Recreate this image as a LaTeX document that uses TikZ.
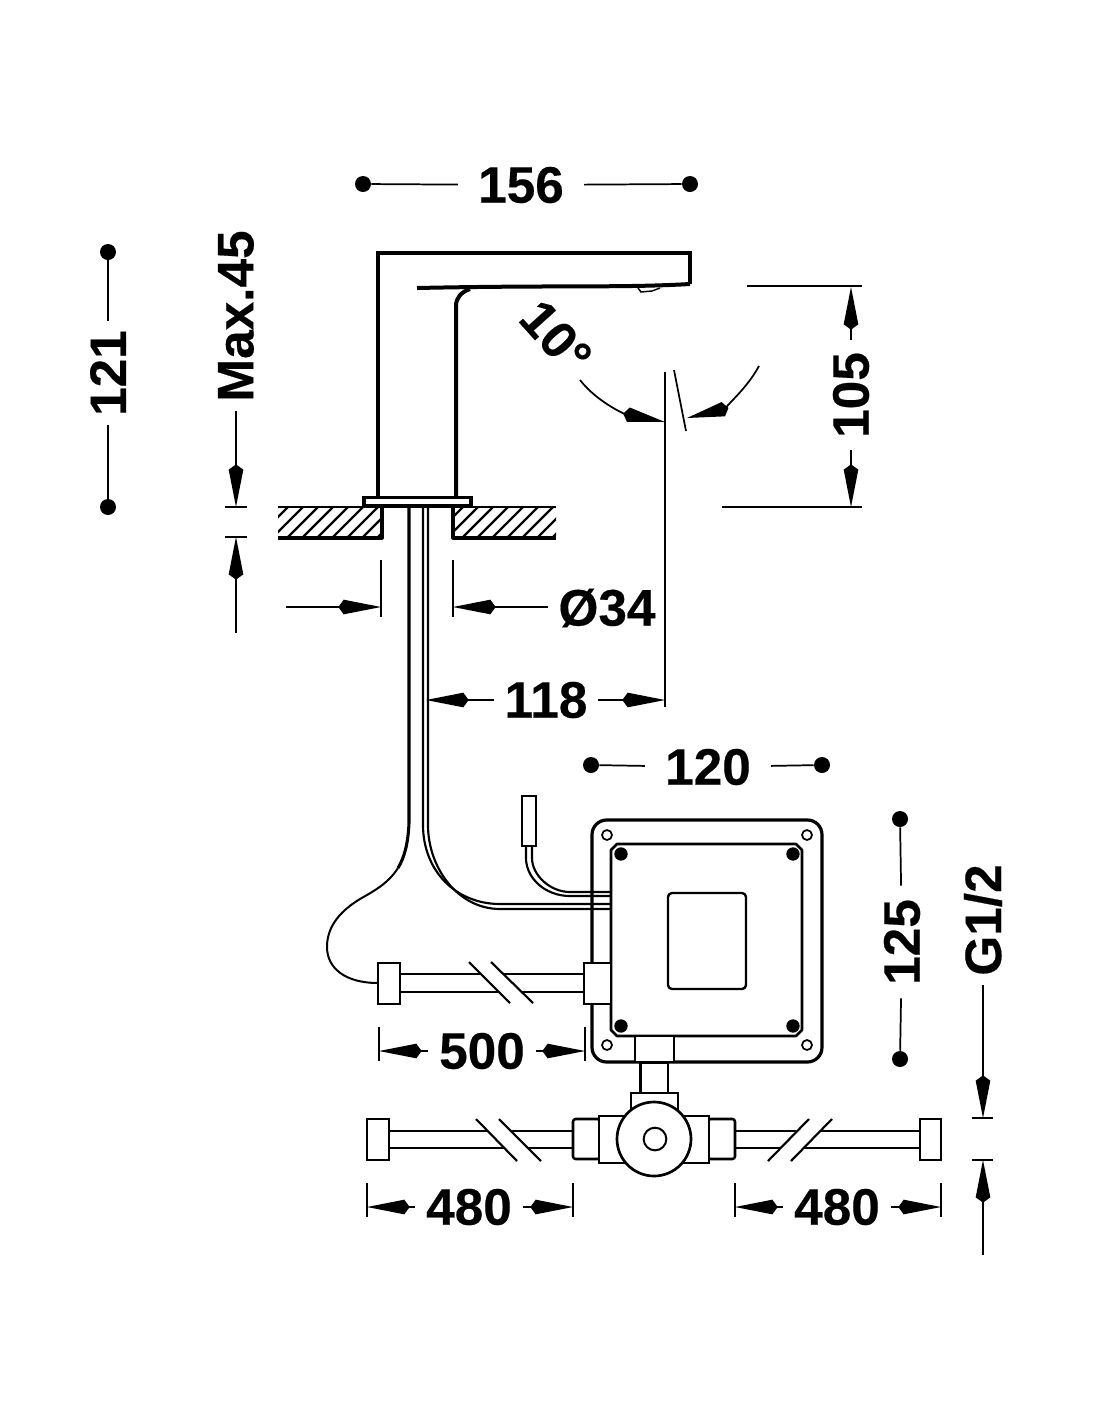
\documentclass[tikz,border=0pt]{standalone}
\usepackage{fontspec}
\setmainfont[BoldFeatures={FakeBold=0.35}]{Liberation Sans}
\usetikzlibrary{arrows.meta}
\tikzset{
  px/.style={x=0.75pt,y=-0.75pt},
  heavy/.style={line width=3.0pt,line join=miter},
  body/.style={line width=2.3pt,line join=round},
  mid/.style={line width=1.6pt,line join=round},
  thin/.style={line width=1.1pt},
  dimtip/.tip={Kite[length=32pt,width=11pt,inset=4pt]},
  dimtext/.style={font=\bfseries\fontsize{38.5}{40}\selectfont,inner sep=8pt},
  dimline/.style={line width=1.3pt},
  dimarrow/.style={line width=1.3pt,-dimtip},
  enddot/.style={circle,fill=black,inner sep=0pt,minimum size=12pt},
  screw/.style={circle,fill=black,inner sep=0pt,minimum size=10pt},
  hole/.style={circle,draw=black,fill=white,line width=1.3pt,inner sep=0pt,minimum size=7.5pt},
  part/.style={draw=black,fill=white,line width=1.7pt},
}
\begin{document}
\begin{tikzpicture}[px]
\useasboundingbox (0,0) rectangle (1100,1422);
% ---- hatched counter top
\begin{scope}
  \clip (278,507) rectangle (382,538);
  \foreach \x in {240,255,...,400}{\draw[line width=1.7pt] (\x,540) -- (\x+35,505);}
\end{scope}
\begin{scope}
  \clip (453,507) rectangle (556,538);
  \foreach \x in {415,430,...,570}{\draw[line width=1.7pt] (\x,540) -- (\x+35,505);}
\end{scope}
\draw[mid] (278,507) -- (382,507);
\draw[mid] (453,507) -- (556,507);
\draw[body] (278,538) -- (382,538) -- (382,507);
\draw[body] (556,538) -- (453,538) -- (453,507);
% ---- tap body
\draw[heavy] (378,497) -- (378,253) -- (690,253) -- (690,284);
\draw[heavy] (690,284) .. controls (620,288) and (560,285) .. (417,288);
\draw[heavy] (456,497) -- (456,306) .. controls (456,298) and (461,292) .. (470,289);
\draw[thin] (638,288) -- (641,292) -- (652,291) -- (660,288);
\draw[part,line width=2.3pt] (364,497.5) rectangle (471,506);
% ---- supply lines below the deck
\draw[body] (409,507) -- (409,823) .. controls (408,845) and (404,858) .. (398,868);
\draw[line width=1.5pt] (398,868)
  .. controls (388,884) and (372,892) .. (360,899)
  .. controls (342,910) and (327,925) .. (327,947)
  .. controls (327,968) and (345,983) .. (378,983);
\draw[mid] (423,507) -- (423,825) .. controls (423,870) and (455,904) .. (500,904) -- (611,904);
\draw[mid] (428,507) -- (428,825) .. controls (428,868) and (458,909) .. (500,909) -- (611,909);
% ---- sensor
\draw[mid] (526,846) -- (526,858) .. controls (526,878) and (545,896) .. (570,896) -- (611,896);
\draw[mid] (532,846) -- (532,858) .. controls (532,875) and (550,892) .. (570,892) -- (611,892);
\node[part,minimum width=10.5pt,minimum height=37.5pt,inner sep=0pt] (sensor) at (529,821) {};
% ---- control box
\draw[heavy,line width=2.4pt,rounded corners=11pt] (592,820) rectangle (822,1062);
\draw[mid,line width=2pt] (611,844) ++(6,0) -- (796,844) -- (802,850) -- (802,1030) -- (796,1036) -- (617,1036) -- (611,1030) -- (611,850) -- cycle;
\draw[mid,rounded corners=3pt,line width=1.8pt] (668,893) rectangle (746,989);
\foreach \n/\x/\y in {sa/621/854,sb/793/854,sc/621/1026,sd/793/1026}{\node[screw] (\n) at (\x,\y) {};}
\foreach \n/\x/\y in {ha/607/835,hb/807/835,hc/607/1045,hd/807/1045}{\node[hole] (\n) at (\x,\y) {};}
\draw[part,line width=2pt] (584,963) rectangle (611,1004);
\draw[part,line width=2pt] (635,1036) rectangle (674,1062);
% ---- solenoid cable with break
\draw[mid] (400,974) -- (584,974);
\draw[mid] (400,992) -- (584,992);
\fill[white] (478,972) -- (500,972) -- (524,994) -- (502,994) -- cycle;
\draw[mid] (469,962) -- (510,1003);
\draw[mid] (491,962) -- (533,1003);
\draw[part,line width=2pt] (378,963) rectangle (400,1004);
% ---- valve
\draw[part,line width=2pt] (640.5,1063) rectangle (668,1095);
\draw[part,line width=1.8pt] (631,1093) rectangle (678,1112);
% hoses
\draw[mid] (389,1131) -- (573,1131);
\draw[mid] (389,1148) -- (573,1148);
\draw[mid] (735,1131) -- (920,1131);
\draw[mid] (735,1148) -- (920,1148);
\fill[white] (487,1129) -- (510,1129) -- (530,1150) -- (507,1150) -- cycle;
\fill[white] (798,1129) -- (821,1129) -- (801,1150) -- (778,1150) -- cycle;
\draw[mid] (476,1119) -- (517,1161);
\draw[mid] (499,1119) -- (541,1161);
\draw[mid] (809,1119) -- (768,1161);
\draw[mid] (832,1119) -- (791,1161);
\draw[part,line width=1.8pt] (367,1119) rectangle (389,1160);
\draw[part,line width=1.8pt] (920,1119) rectangle (941,1160);
\draw[part,line width=1.9pt,rounded corners=2pt] (573,1119) rectangle (600,1159);
\draw[part,line width=1.9pt,rounded corners=2pt] (708,1119) rectangle (735,1159);
\draw[part,line width=2pt] (599,1116) rectangle (709,1163);
\node[circle,draw=black,fill=white,line width=2pt,inner sep=0pt,minimum size=55.5pt] (valve) at (654,1139) {};
\node[circle,draw=black,fill=white,line width=1.5pt,inner sep=0pt,minimum size=17pt] (spindle) at (655,1139) {};
% ---- centre line and tilt line
\coordinate (cltop) at (665,372);
\coordinate (clbot) at (665,707);
\draw[dimline] (cltop) -- (clbot);
\coordinate (tilta) at (674,370);
\coordinate (tiltb) at (686,431);
\draw[dimline] (tilta) -- (tiltb);
\coordinate (arcla) at (580,380);
\coordinate (arclb) at (665,422);
\draw[line width=1.3pt,-{Kite[length=32pt,width=11pt,inset=4pt]}] (arcla) .. controls (597,402) and (625,414) .. (arclb);
\coordinate (arcra) at (759,366);
\coordinate (arcrb) at (687,418);
\draw[line width=1.3pt,-{Kite[length=32pt,width=11pt,inset=4pt]}] (arcra) .. controls (745,392) and (720,410) .. (arcrb);
\node[dimtext,rotate=-48,inner sep=0pt] (t10) at (556,337) {10°};
% ---- dimension 156
\node[dimtext,inner sep=15pt] (t156) at (521,185) {156};
\node[enddot] (d156a) at (363,184) {};
\node[enddot] (d156b) at (690,184) {};
\draw[dimline] (d156a) -- (t156);
\draw[dimline] (t156) -- (d156b);
% ---- dimension 121
\node[dimtext,rotate=90,inner sep=7pt] (t121) at (108,373) {121};
\node[enddot] (d121a) at (108,252) {};
\node[enddot] (d121b) at (108,507) {};
\draw[dimline] (d121a) -- (t121);
\draw[dimline] (t121) -- (d121b);
% ---- dimension Max.45
\node[dimtext,rotate=90,inner sep=7pt] (tmax) at (236,316) {Max.45};
\coordinate (maxa) at (236,507);
\coordinate (maxb) at (236,537);
\coordinate (maxc) at (236,633);
\draw[dimarrow] (tmax) -- (maxa);
\draw[dimarrow] (maxc) -- (maxb);
\coordinate (ex1a) at (225,507); \coordinate (ex1b) at (247,507);
\coordinate (ex2a) at (225,537); \coordinate (ex2b) at (247,537);
\draw[dimline] (ex1a) -- (ex1b);
\draw[dimline] (ex2a) -- (ex2b);
% ---- dimension 105
\node[dimtext,rotate=90,inner sep=9pt] (t105) at (851,395) {105};
\coordinate (a105) at (851,287);
\coordinate (b105) at (851,507);
\draw[dimarrow] (t105) -- (a105);
\draw[dimarrow] (t105) -- (b105);
\coordinate (e105a) at (747,286); \coordinate (e105b) at (862,286);
\coordinate (e105c) at (722,507); \coordinate (e105d) at (862,507);
\draw[dimline] (e105a) -- (e105b);
\draw[dimline] (e105c) -- (e105d);
% ---- dimension O34
\node[dimtext,inner sep=0pt] (t34) at (607,608) {Ø34};
\coordinate (o1) at (286,607); \coordinate (o2) at (381,607);
\coordinate (o3) at (548,607); \coordinate (o4) at (453,607);
\draw[dimarrow] (o1) -- (o2);
\draw[dimarrow] (o3) -- (o4);
\coordinate (x1a) at (381,560); \coordinate (x1b) at (381,617);
\coordinate (x2a) at (453,560); \coordinate (x2b) at (453,617);
\draw[dimline] (x1a) -- (x1b);
\draw[dimline] (x2a) -- (x2b);
% ---- dimension 118
\node[dimtext] (t118) at (546,700) {118};
\coordinate (a118) at (426,700);
\coordinate (b118) at (665,700);
\draw[dimarrow] (t118) -- (a118);
\draw[dimarrow] (t118) -- (b118);
% ---- dimension 120
\node[dimtext,inner sep=15pt] (t120) at (708,767) {120};
\node[enddot] (d120a) at (591,765) {};
\node[enddot] (d120b) at (822,765) {};
\draw[dimline] (d120a) -- (t120);
\draw[dimline] (t120) -- (d120b);
% ---- dimension 125
\node[dimtext,rotate=90,inner sep=10pt] (t125) at (902,942) {125};
\node[enddot] (d125a) at (900,819) {};
\node[enddot] (d125b) at (900,1059) {};
\draw[dimline] (d125a) -- (t125);
\draw[dimline] (t125) -- (d125b);
% ---- dimension G1/2
\node[dimtext,rotate=90,inner sep=7pt] (tg) at (983,920) {G1/2};
\coordinate (ga) at (983,1118);
\coordinate (gb) at (983,1160);
\coordinate (gc) at (983,1255);
\draw[dimarrow] (tg) -- (ga);
\draw[dimarrow] (gc) -- (gb);
\coordinate (gx1) at (972,1118); \coordinate (gx2) at (993,1118);
\coordinate (gx3) at (972,1160); \coordinate (gx4) at (993,1160);
\draw[dimline] (gx1) -- (gx2);
\draw[dimline] (gx3) -- (gx4);
% ---- dimension 500
\node[dimtext] (t500) at (482,1051) {500};
\coordinate (a500) at (379,1051);
\coordinate (b500) at (585,1051);
\draw[dimarrow] (t500) -- (a500);
\draw[dimarrow] (t500) -- (b500);
\coordinate (e500a) at (379,1027); \coordinate (e500b) at (379,1061);
\coordinate (e500c) at (585,1027); \coordinate (e500d) at (585,1061);
\draw[dimline] (e500a) -- (e500b);
\draw[dimline] (e500c) -- (e500d);
% ---- dimensions 480
\node[dimtext] (t480a) at (469,1207) {480};
\coordinate (a480) at (367,1207);
\coordinate (b480) at (573,1207);
\draw[dimarrow] (t480a) -- (a480);
\draw[dimarrow] (t480a) -- (b480);
\coordinate (e480a) at (367,1183); \coordinate (e480b) at (367,1217);
\coordinate (e480c) at (573,1183); \coordinate (e480d) at (573,1217);
\draw[dimline] (e480a) -- (e480b);
\draw[dimline] (e480c) -- (e480d);
\node[dimtext] (t480b) at (837,1207) {480};
\coordinate (c480) at (735,1207);
\coordinate (d480) at (941,1207);
\draw[dimarrow] (t480b) -- (c480);
\draw[dimarrow] (t480b) -- (d480);
\coordinate (e480e) at (735,1183); \coordinate (e480f) at (735,1217);
\coordinate (e480g) at (941,1183); \coordinate (e480h) at (941,1217);
\draw[dimline] (e480e) -- (e480f);
\draw[dimline] (e480g) -- (e480h);
\end{tikzpicture}
\end{document}
